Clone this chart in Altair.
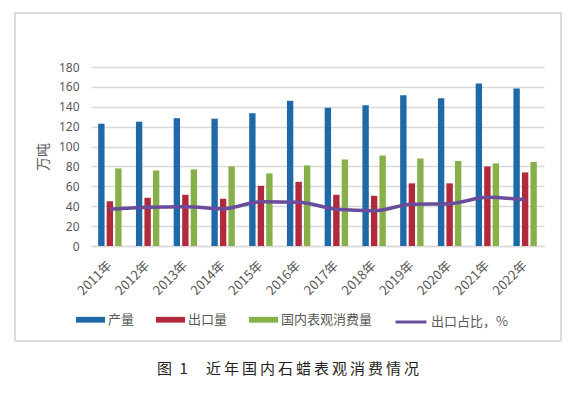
import altair as alt
import pandas as pd

years = ["2011年", "2012年", "2013年", "2014年", "2015年", "2016年",
         "2017年", "2018年", "2019年", "2020年", "2021年", "2022年"]
production = [123, 125, 128.5, 128, 133.5, 146, 139, 141.5, 151.5, 148.5, 163.5, 158.5]
exports = [45, 48.5, 51.5, 47.5, 60.5, 64.5, 51.5, 50.5, 63, 63, 80, 74]
consumption = [78, 76, 77, 80, 73, 81, 87, 91, 88, 85.5, 83, 84.5]
export_ratio = [37, 39, 39.5, 37.5, 44.5, 44, 37, 35.5, 42, 42.5, 49, 46.5]

series = ["产量", "出口量", "国内表观消费量"]
bar_colors = ["#1F69A8", "#B02A3B", "#87B04B"]
line_name = "出口占比，%"
line_color = "#6A4C9C"
y_ticks = [0, 20, 40, 60, 80, 100, 120, 140, 160, 180]

rows = []
for i, yr in enumerate(years):
    for s, vals in zip(series, [production, exports, consumption]):
        rows.append({"year": yr, "series": s, "value": vals[i]})
bars_df = pd.DataFrame(rows)
line_df = pd.DataFrame({"year": years, "series": [line_name] * len(years), "value": export_ratio})

FONT = "Noto Sans CJK SC"
GRAY = "#595959"
GRID = "#D9D9D9"

x_enc = alt.X(
    "year:N", sort=years, title=None,
    scale=alt.Scale(paddingInner=0.38, paddingOuter=0.19),
    axis=alt.Axis(labelAngle=315, labelAlign="right", labelBaseline="middle",
                  labelPadding=17, ticks=False, domain=True, domainColor=GRID,
                  domainWidth=1.5, grid=False, labelFont=FONT, labelFontSize=13,
                  labelColor=GRAY),
)
y_enc = alt.Y(
    "value:Q", scale=alt.Scale(domain=[0, 180]),
    axis=alt.Axis(values=y_ticks, title="万吨", domain=False, ticks=False,
                  gridColor=GRID, gridWidth=1.5, labelPadding=12,
                  labelFont="Noto Sans", labelFontSize=12, labelColor=GRAY,
                  titleFont=FONT, titleFontSize=14, titleColor=GRAY,
                  titleFontWeight="normal", titlePadding=8),
)

bars = alt.Chart(bars_df).mark_bar().encode(
    x=x_enc,
    xOffset=alt.XOffset("series:N", sort=series, scale=alt.Scale(paddingInner=0.25)),
    y=y_enc,
    color=alt.Color(
        "series:N", sort=series,
        scale=alt.Scale(domain=series, range=bar_colors),
        legend=alt.Legend(
            title=None, orient="none", direction="horizontal",
            legendX=-15, legendY=238, padding=0,
            symbolType="M-1,-0.2H1V0.2H-1Z", symbolSize=841,
            symbolStrokeWidth=0, labelFont=FONT, labelFontSize=13,
            labelColor=GRAY, labelOffset=3, columnPadding=21,
        ),
    ),
)

line = alt.Chart(line_df).mark_line(interpolate="monotone", strokeWidth=3.5).encode(
    x=x_enc,
    y=y_enc,
    stroke=alt.Stroke(
        "series:N",
        scale=alt.Scale(domain=[line_name], range=[line_color]),
        legend=alt.Legend(
            title=None, orient="none", direction="horizontal",
            legendX=303, legendY=238, padding=0,
            symbolType="stroke", symbolSize=961, symbolStrokeWidth=3,
            labelFont=FONT, labelFontSize=13, labelColor=GRAY, labelOffset=3,
        ),
    ),
)

frame = alt.Chart(pd.DataFrame({"k": [0]})).mark_rect(
    fillOpacity=0, stroke="#DCDCDC", strokeWidth=2
).encode(x=alt.value(-76), x2=alt.value(470), y=alt.value(-54), y2=alt.value(274))

caption = "图\u20021\u2003\u2009" + "\u2009".join("近年国内石蜡表观消费情况")

chart = alt.layer(frame, bars, line).resolve_scale(color="independent").properties(
    width=453, height=179,
    padding={"left": 83, "top": 59, "right": 20, "bottom": 140},
    autosize=alt.AutoSizeParams(type="none"),
    background="white",
    title=alt.TitleParams(text=caption, orient="bottom", anchor="middle",
                          frame="bounds", font=FONT, fontSize=15,
                          fontWeight="normal", color="#231F20", offset=20),
).configure_view(stroke=None)

chart.save("out.html", embed_options={"renderer": "svg", "actions": False})
